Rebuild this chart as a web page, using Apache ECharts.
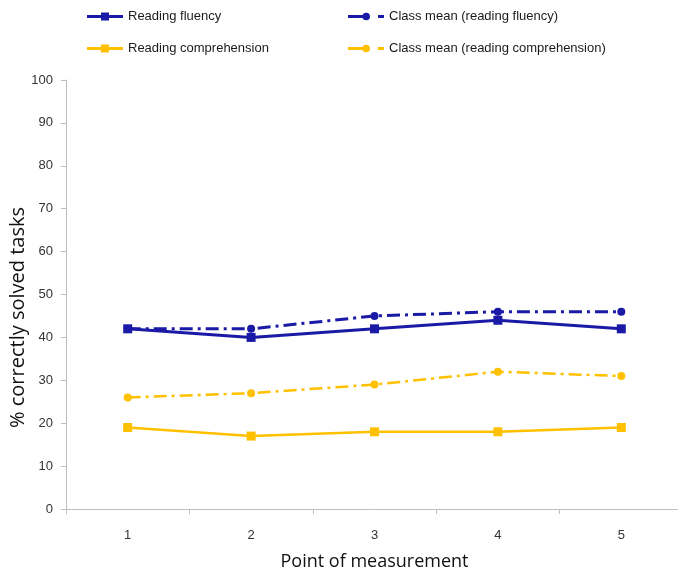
<!DOCTYPE html>
<html>
<head>
<meta charset="utf-8">
<script src="https://cdn.jsdelivr.net/npm/echarts@6/dist/echarts.min.js"></script>
<style>
  html, body { margin: 0; padding: 0; background: #fff; }
  #chart { width: 678px; height: 580px; }
</style>
</head>
<body>
<div id="chart"></div>
<script>
// Measurement points and percentages of correctly solved tasks
const points = ['1', '2', '3', '4', '5'];
const readingFluency = [42, 40, 42, 44, 42];
const classMeanFluency = [42, 42, 45, 46, 46];
const readingComprehension = [19, 17, 18, 18, 19];
const classMeanComprehension = [26, 27, 29, 32, 31];

const BLUE = '#1a1aa6';
const GOLD = '#ffc000';
const labelFont = '"Liberation Sans", Arial, sans-serif';
const titleFont = '"Open Sans", sans-serif';

// Legend glyphs: line with a square, and line with a dot followed by a short dash
const iconSquare = 'path://M0,3.5H14V1H22V3.5H36V6.5H22V9H14V6.5H0Z';
const iconDotDash = 'path://M0,3.6H15V6.4H0Z M22,5A3.8,3.8,0,1,1,14.4,5A3.8,3.8,0,1,1,22,5Z M30,3.6H36V6.4H30Z';

const chart = echarts.init(document.getElementById('chart'), null, { renderer: 'canvas' });

const legendBase = {
  orient: 'vertical',
  top: 5,
  itemWidth: 36,
  itemHeight: 10,
  itemGap: 19,
  textStyle: { fontFamily: labelFont, fontSize: 13, color: '#1a1a1a' }
};

chart.setOption({
  animation: false,
  backgroundColor: '#fff',
  legend: [
    Object.assign({}, legendBase, {
      left: 82,
      data: [
        { name: 'Reading fluency', icon: iconSquare },
        { name: 'Reading comprehension', icon: iconSquare }
      ]
    }),
    Object.assign({}, legendBase, {
      left: 343,
      data: [
        { name: 'Class mean (reading fluency)', icon: iconDotDash },
        { name: 'Class mean (reading comprehension)', icon: iconDotDash }
      ]
    })
  ],
  grid: {
    left: 66, top: 80, right: -5, bottom: 71,
    containLabel: false,
    outerBoundsMode: 'none'
  },
  xAxis: {
    type: 'category',
    data: points,
    boundaryGap: true,
    name: 'Point of measurement',
    nameLocation: 'middle',
    nameGap: 44,
    nameMoveOverlap: false,
    nameTextStyle: { fontFamily: titleFont, fontSize: 18, color: '#111' },
    axisLine: { lineStyle: { color: '#bfbfbf', width: 1 } },
    axisTick: { show: true, length: 5, lineStyle: { color: '#bfbfbf' } },
    axisLabel: { fontFamily: labelFont, fontSize: 13, color: '#333', margin: 20 },
    splitLine: { show: false }
  },
  yAxis: {
    type: 'value',
    min: 0,
    max: 100,
    interval: 10,
    name: '% correctly solved tasks',
    nameLocation: 'middle',
    nameGap: 38,
    nameMoveOverlap: false,
    nameTextStyle: {
      fontFamily: titleFont, fontSize: 20, color: '#111',
      padding: [0, 46, 0, 0]
    },
    axisLine: { show: true, lineStyle: { color: '#bfbfbf', width: 1 } },
    axisTick: { show: true, length: 5, lineStyle: { color: '#bfbfbf' } },
    axisLabel: { fontFamily: labelFont, fontSize: 13, color: '#333', margin: 13 },
    splitLine: { show: false }
  },
  series: [
    {
      name: 'Reading fluency',
      type: 'line',
      data: readingFluency,
      symbol: 'rect',
      symbolSize: 9,
      color: BLUE,
      lineStyle: { color: BLUE, width: 3 },
      itemStyle: { color: BLUE },
      z: 3
    },
    {
      name: 'Class mean (reading fluency)',
      type: 'line',
      data: classMeanFluency,
      symbol: 'circle',
      symbolSize: 8,
      color: BLUE,
      lineStyle: { color: BLUE, width: 3, type: [13, 5, 3, 5] },
      itemStyle: { color: BLUE },
      z: 2
    },
    {
      name: 'Reading comprehension',
      type: 'line',
      data: readingComprehension,
      symbol: 'rect',
      symbolSize: 9,
      color: GOLD,
      lineStyle: { color: GOLD, width: 2.5 },
      itemStyle: { color: GOLD },
      z: 3
    },
    {
      name: 'Class mean (reading comprehension)',
      type: 'line',
      data: classMeanComprehension,
      symbol: 'circle',
      symbolSize: 8,
      color: GOLD,
      lineStyle: { color: GOLD, width: 2.5, type: [13, 5, 3, 5] },
      itemStyle: { color: GOLD },
      z: 2
    }
  ]
});
</script>
</body>
</html>
